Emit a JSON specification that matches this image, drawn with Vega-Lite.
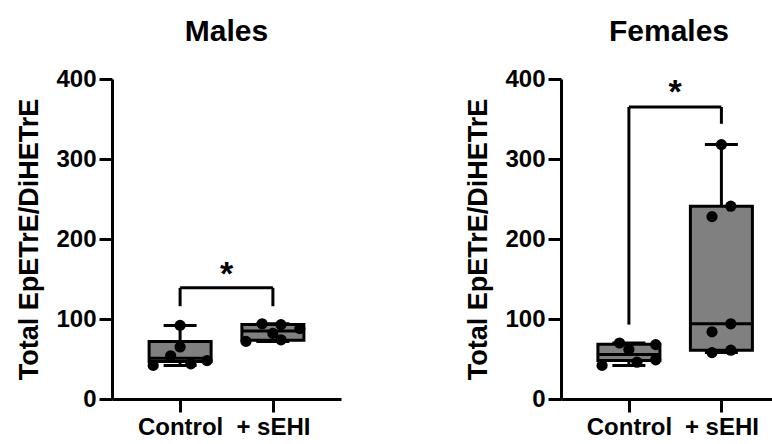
{
  "$schema": "https://vega.github.io/schema/vega-lite/v6.json",
  "padding": {"left": 15, "top": 17, "right": 0, "bottom": 0},
  "background": "white",
  "config": {
    "font": "Liberation Sans",
    "view": {"stroke": null},
    "axis": {
      "grid": false,
      "domainColor": "black", "domainWidth": 3,
      "tickColor": "black", "tickWidth": 3, "tickSize": 13,
      "labelFont": "Liberation Sans", "labelFontSize": 24, "labelFontWeight": "bold", "labelColor": "black",
      "titleFont": "Liberation Sans", "titleFontSize": 27, "titleFontWeight": "bold", "titleColor": "black"
    },
    "title": {"font": "Liberation Sans", "fontSize": 30, "fontWeight": "bold", "color": "black", "anchor": "middle", "offset": 20}
  },
  "datasets": {
    "pts": [
      {"sex": "Males", "g": 1, "v": 92, "lane": 0},
      {"sex": "Males", "g": 1, "v": 65, "lane": 0},
      {"sex": "Males", "g": 1, "v": 54, "lane": -0.35},
      {"sex": "Males", "g": 1, "v": 48, "lane": 1},
      {"sex": "Males", "g": 1, "v": 44, "lane": 0.4},
      {"sex": "Males", "g": 1, "v": 42, "lane": -1},
      {"sex": "Males", "g": 2, "v": 94, "lane": -0.4},
      {"sex": "Males", "g": 2, "v": 93, "lane": 0.3},
      {"sex": "Males", "g": 2, "v": 88, "lane": 1},
      {"sex": "Males", "g": 2, "v": 82, "lane": 0},
      {"sex": "Males", "g": 2, "v": 74, "lane": 0.3},
      {"sex": "Males", "g": 2, "v": 72, "lane": -1},
      {"sex": "Females", "g": 1, "v": 70, "lane": -0.35},
      {"sex": "Females", "g": 1, "v": 68, "lane": 1},
      {"sex": "Females", "g": 1, "v": 62, "lane": 0},
      {"sex": "Females", "g": 1, "v": 49, "lane": 1},
      {"sex": "Females", "g": 1, "v": 46, "lane": 0.3},
      {"sex": "Females", "g": 1, "v": 42, "lane": -1},
      {"sex": "Females", "g": 2, "v": 318, "lane": 0},
      {"sex": "Females", "g": 2, "v": 241, "lane": 0.35},
      {"sex": "Females", "g": 2, "v": 228, "lane": -0.35},
      {"sex": "Females", "g": 2, "v": 94, "lane": 0.35},
      {"sex": "Females", "g": 2, "v": 84, "lane": -0.35},
      {"sex": "Females", "g": 2, "v": 61, "lane": 0.35},
      {"sex": "Females", "g": 2, "v": 58, "lane": -0.35}
    ],
    "box": [
      {"sex": "Males", "g": 1, "min": 42, "q1": 47, "med": 51, "q3": 72, "max": 92},
      {"sex": "Males", "g": 2, "min": 72, "q1": 73.5, "med": 85, "q3": 93, "max": 94},
      {"sex": "Females", "g": 1, "min": 42, "q1": 48.25, "med": 55.5, "q3": 68.5, "max": 70},
      {"sex": "Females", "g": 2, "min": 58, "q1": 61, "med": 94, "q3": 241, "max": 318}
    ],
    "sig": [
      {"sex": "Males", "x1": 1, "x2": 2, "xm": 1.5, "top": 139, "yl": 116, "yr": 116, "star": 155, "label": "*"},
      {"sex": "Females", "x1": 1, "x2": 2, "xm": 1.5, "top": 365, "yl": 93, "yr": 344, "star": 382, "label": "*"}
    ]
  },
  "spacing": 123,
  "hconcat": [
    {
      "width": 229, "height": 320,
      "title": "Males",
      "encoding": {
        "x": {"field": "g", "type": "quantitative",
              "scale": {"domain": [0.32, 2.68], "nice": false, "zero": false},
              "axis": {"values": [1, 2], "labelExpr": "datum.value == 1 ? 'Control' : '+ sEHI'", "title": null, "labelPadding": 3}}
      },
      "layer": [
        {"data": {"name": "box"}, "transform": [{"filter": "datum.sex == 'Males'"}],
         "mark": {"type": "rule", "strokeWidth": 3, "color": "black"},
         "encoding": {"y": {"field": "min", "type": "quantitative",
                            "scale": {"domain": [0, 400], "nice": false},
                            "axis": {"values": [0, 100, 200, 300, 400], "title": "Total EpETrE/DiHETrE", "labelPadding": 3, "titlePadding": 12}},
                      "y2": {"field": "max"}}},
        {"data": {"name": "box"}, "transform": [{"filter": "datum.sex == 'Males'"}],
         "mark": {"type": "tick", "orient": "horizontal", "size": 33, "thickness": 3, "color": "black", "opacity": 1},
         "encoding": {"y": {"field": "max", "type": "quantitative"}}},
        {"data": {"name": "box"}, "transform": [{"filter": "datum.sex == 'Males'"}],
         "mark": {"type": "tick", "orient": "horizontal", "size": 33, "thickness": 3, "color": "black", "opacity": 1},
         "encoding": {"y": {"field": "min", "type": "quantitative"}}},
        {"data": {"name": "box"}, "transform": [{"filter": "datum.sex == 'Males'"}],
         "mark": {"type": "bar", "size": 62, "fill": "#808080", "stroke": "black", "strokeWidth": 3},
         "encoding": {"y": {"field": "q1", "type": "quantitative"}, "y2": {"field": "q3"}}},
        {"data": {"name": "box"}, "transform": [{"filter": "datum.sex == 'Males'"}],
         "mark": {"type": "tick", "orient": "horizontal", "size": 62, "thickness": 3, "color": "black", "opacity": 1},
         "encoding": {"y": {"field": "med", "type": "quantitative"}}},
        {"data": {"name": "pts"}, "transform": [{"filter": "datum.sex == 'Males'"}, {"calculate": "datum.g + datum.lane * 0.29", "as": "xp"}],
         "mark": {"type": "circle", "size": 125, "color": "black", "opacity": 1},
         "encoding": {"x": {"field": "xp", "type": "quantitative"}, "y": {"field": "v", "type": "quantitative"}}},
        {"data": {"name": "sig"}, "transform": [{"filter": "datum.sex == 'Males'"}],
         "mark": {"type": "rule", "strokeWidth": 3, "color": "black"},
         "encoding": {"x": {"field": "x1", "type": "quantitative"}, "x2": {"field": "x2"}, "y": {"field": "top", "type": "quantitative"}}},
        {"data": {"name": "sig"}, "transform": [{"filter": "datum.sex == 'Males'"}],
         "mark": {"type": "rule", "strokeWidth": 3, "color": "black"},
         "encoding": {"x": {"field": "x1", "type": "quantitative"}, "y": {"field": "yl", "type": "quantitative"}, "y2": {"field": "top"}}},
        {"data": {"name": "sig"}, "transform": [{"filter": "datum.sex == 'Males'"}],
         "mark": {"type": "rule", "strokeWidth": 3, "color": "black"},
         "encoding": {"x": {"field": "x2", "type": "quantitative"}, "y": {"field": "yr", "type": "quantitative"}, "y2": {"field": "top"}}},
        {"data": {"name": "sig"}, "transform": [{"filter": "datum.sex == 'Males'"}],
         "mark": {"type": "text", "fontSize": 34, "fontWeight": "bold", "color": "black", "baseline": "middle", "align": "center"},
         "encoding": {"x": {"field": "xm", "type": "quantitative"}, "y": {"field": "star", "type": "quantitative"}, "text": {"field": "label"}}}
      ]
    },
    {
      "width": 216, "height": 320,
      "title": "Females",
      "encoding": {
        "x": {"field": "g", "type": "quantitative",
              "scale": {"domain": [0.32, 2.547], "nice": false, "zero": false},
              "axis": {"values": [1, 2], "labelExpr": "datum.value == 1 ? 'Control' : '+ sEHI'", "title": null, "labelPadding": 3}}
      },
      "layer": [
        {"data": {"name": "box"}, "transform": [{"filter": "datum.sex == 'Females'"}],
         "mark": {"type": "rule", "strokeWidth": 3, "color": "black"},
         "encoding": {"y": {"field": "min", "type": "quantitative",
                            "scale": {"domain": [0, 400], "nice": false},
                            "axis": {"values": [0, 100, 200, 300, 400], "title": "Total EpETrE/DiHETrE", "labelPadding": 3, "titlePadding": 12}},
                      "y2": {"field": "max"}}},
        {"data": {"name": "box"}, "transform": [{"filter": "datum.sex == 'Females'"}],
         "mark": {"type": "tick", "orient": "horizontal", "size": 33, "thickness": 3, "color": "black", "opacity": 1},
         "encoding": {"y": {"field": "max", "type": "quantitative"}}},
        {"data": {"name": "box"}, "transform": [{"filter": "datum.sex == 'Females'"}],
         "mark": {"type": "tick", "orient": "horizontal", "size": 33, "thickness": 3, "color": "black", "opacity": 1},
         "encoding": {"y": {"field": "min", "type": "quantitative"}}},
        {"data": {"name": "box"}, "transform": [{"filter": "datum.sex == 'Females'"}],
         "mark": {"type": "bar", "size": 62, "fill": "#808080", "stroke": "black", "strokeWidth": 3},
         "encoding": {"y": {"field": "q1", "type": "quantitative"}, "y2": {"field": "q3"}}},
        {"data": {"name": "box"}, "transform": [{"filter": "datum.sex == 'Females'"}],
         "mark": {"type": "tick", "orient": "horizontal", "size": 62, "thickness": 3, "color": "black", "opacity": 1},
         "encoding": {"y": {"field": "med", "type": "quantitative"}}},
        {"data": {"name": "pts"}, "transform": [{"filter": "datum.sex == 'Females'"}, {"calculate": "datum.g + datum.lane * 0.29", "as": "xp"}],
         "mark": {"type": "circle", "size": 125, "color": "black", "opacity": 1},
         "encoding": {"x": {"field": "xp", "type": "quantitative"}, "y": {"field": "v", "type": "quantitative"}}},
        {"data": {"name": "sig"}, "transform": [{"filter": "datum.sex == 'Females'"}],
         "mark": {"type": "rule", "strokeWidth": 3, "color": "black"},
         "encoding": {"x": {"field": "x1", "type": "quantitative"}, "x2": {"field": "x2"}, "y": {"field": "top", "type": "quantitative"}}},
        {"data": {"name": "sig"}, "transform": [{"filter": "datum.sex == 'Females'"}],
         "mark": {"type": "rule", "strokeWidth": 3, "color": "black"},
         "encoding": {"x": {"field": "x1", "type": "quantitative"}, "y": {"field": "yl", "type": "quantitative"}, "y2": {"field": "top"}}},
        {"data": {"name": "sig"}, "transform": [{"filter": "datum.sex == 'Females'"}],
         "mark": {"type": "rule", "strokeWidth": 3, "color": "black"},
         "encoding": {"x": {"field": "x2", "type": "quantitative"}, "y": {"field": "yr", "type": "quantitative"}, "y2": {"field": "top"}}},
        {"data": {"name": "sig"}, "transform": [{"filter": "datum.sex == 'Females'"}],
         "mark": {"type": "text", "fontSize": 34, "fontWeight": "bold", "color": "black", "baseline": "middle", "align": "center"},
         "encoding": {"x": {"field": "xm", "type": "quantitative"}, "y": {"field": "star", "type": "quantitative"}, "text": {"field": "label"}}}
      ]
    }
  ]
}
